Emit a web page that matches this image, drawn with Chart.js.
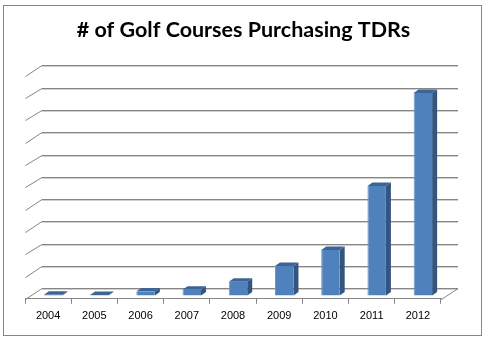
<!DOCTYPE html>
<html>
<head>
<meta charset="utf-8">
<title>Golf Courses Purchasing TDRs</title>
<script src="https://cdn.jsdelivr.net/npm/chart.js@4.4.1/dist/chart.umd.min.js"></script>
<style>
  html, body { margin: 0; padding: 0; background: #fff; }
  #wrap { width: 487px; height: 341px; }
</style>
</head>
<body>
<div id="wrap"><canvas id="golfChart" width="487" height="341"></canvas></div>
<script>
const years = ['2004', '2005', '2006', '2007', '2008', '2009', '2010', '2011', '2012'];
const courses = [0.4, 0.3, 1.8, 2.6, 6.2, 13.3, 20.5, 49.1, 90.8];
const gridSteps = [0, 10, 20, 30, 40, 50, 60, 70, 80, 90, 100];

// fake 3d: offsets of the back wall and of the bars from the floor front edge
const wallDx = 16.5, wallDy = -10.4;
const barDx = 5, barDy = -3.2;
const sideDx = 5, sideDy = -3.5;

const frontColor = '#4f81bd';
const sideColor = '#33557f';
const topColor = '#3c6596';
const lineColor = '#868686';

function seg(ctx, x1, y1, x2, y2) {
    ctx.beginPath();
    ctx.moveTo(x1, y1);
    ctx.lineTo(x2, y2);
    ctx.stroke();
}

const box3d = {
    id: 'box3d',
    beforeDraw(chart) {
        const ctx = chart.ctx;
        ctx.save();
        ctx.fillStyle = '#fff';
        ctx.fillRect(0, 0, chart.width, chart.height);
        ctx.strokeStyle = lineColor;
        ctx.lineWidth = 1;
        ctx.strokeRect(3.5, 5.5, 478, 330);
        ctx.restore();
    },
    beforeDatasetsDraw(chart) {
        const { ctx, chartArea: a, scales: { y } } = chart;
        const xl = Math.round(a.left) + 0.5;
        const xr = Math.round(a.right) + 0.5;
        ctx.save();
        ctx.lineWidth = 1;
        gridSteps.forEach(v => {
            const yf = Math.round(y.getPixelForValue(v)) + 0.5;
            const yb = Math.round(y.getPixelForValue(v) + wallDy) + 0.5;
            ctx.strokeStyle = '#cfcfcf';
            seg(ctx, xl + wallDx, yb + 1, xr + wallDx, yb + 1);
            ctx.strokeStyle = lineColor;
            ctx.beginPath();
            ctx.moveTo(xl, yf);
            ctx.lineTo(xl + wallDx, yb);
            ctx.lineTo(xr + wallDx, yb);
            ctx.stroke();
        });
        // right edge of the floor
        const y0 = Math.round(y.getPixelForValue(0)) + 0.5;
        ctx.strokeStyle = lineColor;
        seg(ctx, xr, y0, xr + wallDx, Math.round(y.getPixelForValue(0) + wallDy) + 0.5);
        ctx.restore();

        ctx.save();
        ctx.translate(barDx, barDy);
    },
    afterDatasetsDraw(chart) {
        const ctx = chart.ctx;
        chart.getDatasetMeta(0).data.forEach(bar => {
            const half = bar.width / 2;
            const l = bar.x - half, r = bar.x + half, t = bar.y, b = bar.base;
            // top face
            ctx.fillStyle = topColor;
            ctx.beginPath();
            ctx.moveTo(l, t);
            ctx.lineTo(l + sideDx, t + sideDy);
            ctx.lineTo(r + sideDx, t + sideDy);
            ctx.lineTo(r, t);
            ctx.closePath();
            ctx.fill();
            // side face
            ctx.fillStyle = sideColor;
            ctx.beginPath();
            ctx.moveTo(r, t);
            ctx.lineTo(r + sideDx, t + sideDy);
            ctx.lineTo(r + sideDx, b + sideDy);
            ctx.lineTo(r, b);
            ctx.closePath();
            ctx.fill();
        });
        ctx.restore();
    }
};

const gctx = document.getElementById('golfChart').getContext('2d');
const golfChart = new Chart(gctx, {
    type: 'bar',
    data: {
        labels: years,
        datasets: [
        {
            label: 'Golf courses',
            data: courses,
            backgroundColor: frontColor,
            borderColor: '#6d98cc',
            borderWidth: { left: 1, right: 0, top: 0, bottom: 0 },
            barPercentage: 0.4,
            categoryPercentage: 1,
            clip: false
        }
        ]
    },
    options: {
        responsive: false,
        animation: false,
        layout: {
            padding: { left: 25, right: 25, top: 8, bottom: 12 }
        },
        plugins: {
            legend: { display: false },
            tooltip: { enabled: false },
            title: {
                display: true,
                text: '# of Golf Courses Purchasing TDRs',
                color: '#000',
                font: { family: 'Lato', size: 21.5, weight: 'bold' },
                padding: { top: 9.5, bottom: 32.5 }
            }
        },
        scales: {
            x: {
                grid: {
                    display: true,
                    drawOnChartArea: false,
                    drawTicks: true,
                    tickLength: 5,
                    color: lineColor,
                    offset: true
                },
                border: { display: true, color: lineColor },
                ticks: {
                    color: '#000',
                    padding: 6,
                    font: { family: 'Liberation Sans', size: 11 }
                }
            },
            y: {
                // kept invisible; only reserves room for the 3d depth on the right
                display: true,
                position: 'right',
                min: 0,
                max: 100,
                grid: { display: false },
                border: { display: false },
                ticks: { display: false },
                afterFit(scale) {
                    scale.width = 21;
                }
            }
        }
    },
    plugins: [box3d]
});
</script>
</body>
</html>
